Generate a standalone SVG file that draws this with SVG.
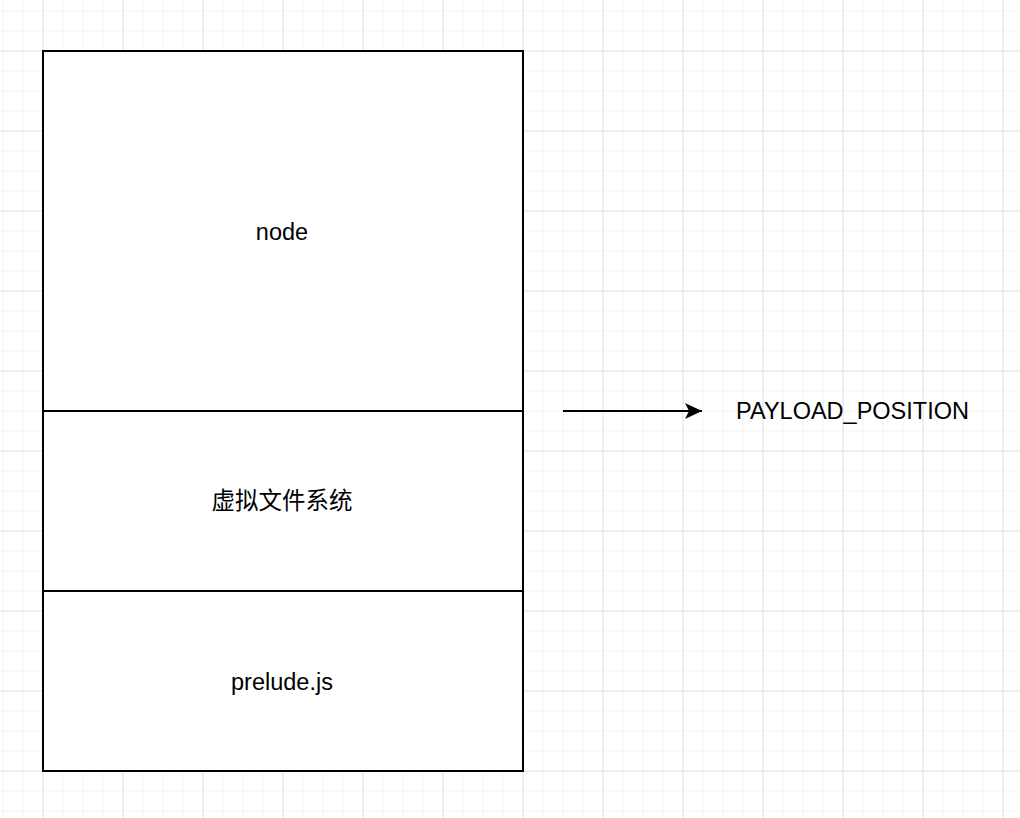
<svg xmlns="http://www.w3.org/2000/svg" width="1020" height="818" viewBox="0 0 1020 818">
<defs>
<pattern id="minor" width="20" height="20" patternUnits="userSpaceOnUse" x="2.5" y="10.5"><path d="M0 0H20M0 0V20" fill="none" stroke="#f2f2f2" stroke-width="1.3"/></pattern>
<pattern id="major" width="80" height="80" patternUnits="userSpaceOnUse" x="42.5" y="50.5"><path d="M0 0H80M0 0V80" fill="none" stroke="#d0d0d0" stroke-width="1"/></pattern>
<marker id="arr" markerWidth="20" markerHeight="20" viewBox="0 0 20 20" refX="17" refY="8" orient="auto" markerUnits="userSpaceOnUse"><path d="M0 0L17 8L0 16L4 8Z" fill="#000"/></marker>
</defs>
<style>
.box{fill:#fff;stroke:#000;stroke-width:2}
.t{font-family:"Liberation Sans","Noto Sans CJK SC",sans-serif;font-size:23.5px;fill:#000;text-anchor:middle;dominant-baseline:central}
</style>
<rect width="1020" height="818" fill="#fff"/>
<rect width="1020" height="818" fill="url(#minor)"/>
<rect width="1020" height="818" fill="url(#major)"/>
<g id="node-node"><rect class="box" x="43" y="51" width="480" height="360"/><text class="t" x="282" y="232">node</text></g>
<g id="node-vfs"><rect class="box" x="43" y="411" width="480" height="180"/><text class="t" x="282" y="501">虚拟文件系统</text></g>
<g id="node-prelude"><rect class="box" x="43" y="591" width="480" height="180"/><text class="t" x="282" y="682">prelude.js</text></g>
<g id="node-payload"><text class="t" x="852.5" y="411">PAYLOAD_POSITION</text></g>
<g id="connectors"><path d="M563 411H702" stroke="#000" stroke-width="2" fill="none" marker-end="url(#arr)"/></g>
</svg>
